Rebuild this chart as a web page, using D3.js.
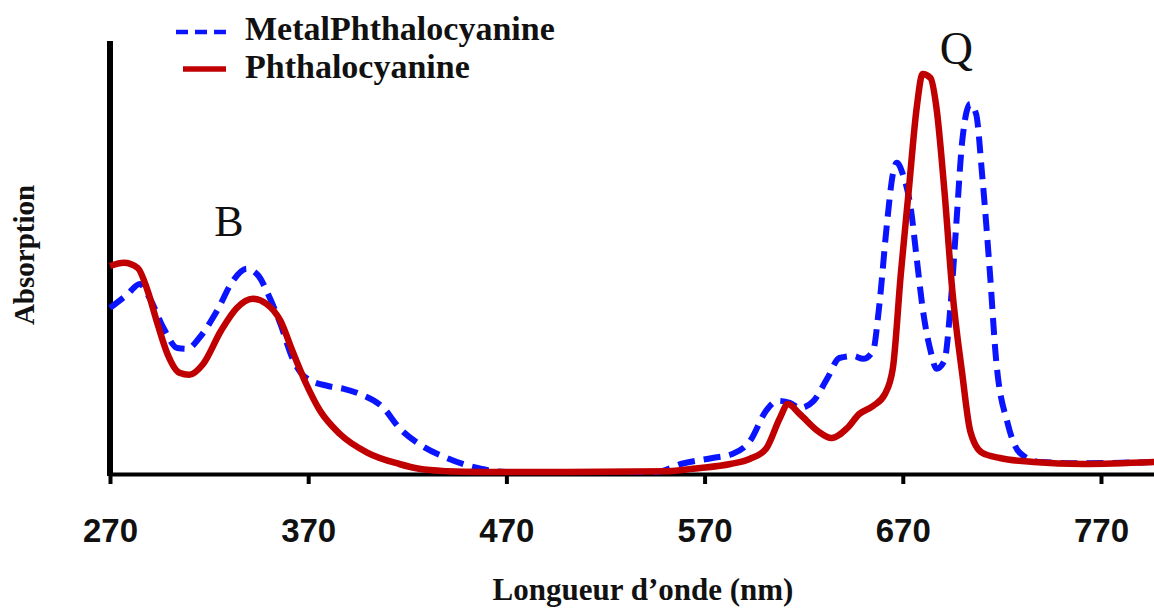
<!DOCTYPE html>
<html>
<head>
<meta charset="utf-8">
<script src="https://cdn.jsdelivr.net/npm/d3@7"></script>
<style>
  html, body { margin: 0; padding: 0; background: #fff; }
  svg { display: block; }
</style>
</head>
<body>
<script>
// UV-Vis absorption spectra (arbitrary units, normalised to the Q band of Pc)
const xTicks = [270, 370, 470, 570, 670, 770];

const pcWavelength = [270, 277, 284, 289, 294, 299, 305, 310, 317, 326, 334, 342, 349, 356, 362, 369, 376, 386, 400, 416, 426, 440, 457, 500, 552, 564, 568, 583, 593, 601, 608, 612, 618, 627, 634, 642, 648, 655, 661, 665, 669, 673, 677, 680, 684, 687, 691, 695, 700, 704, 710, 719, 736, 761, 797];
const pcAbsorption = [0.515, 0.523, 0.51, 0.453, 0.37, 0.295, 0.248, 0.243, 0.27, 0.353, 0.41, 0.433, 0.42, 0.378, 0.303, 0.22, 0.153, 0.095, 0.048, 0.02, 0.008, 0.002, 0, 0, 0.002, 0.008, 0.01, 0.02, 0.033, 0.058, 0.135, 0.17, 0.145, 0.103, 0.085, 0.11, 0.145, 0.165, 0.195, 0.26, 0.495, 0.703, 0.91, 0.995, 0.985, 0.91, 0.703, 0.453, 0.245, 0.103, 0.048, 0.035, 0.025, 0.02, 0.025];

const mpcWavelength = [270, 279, 285, 290, 297, 304, 309, 315, 324, 332, 339, 345, 349, 356, 362, 369, 380, 388, 396, 408, 416, 426, 440, 457, 470, 546, 558, 574, 584, 593, 601, 607, 613, 618, 625, 632, 638, 645, 650, 655, 658, 662, 665, 667, 670, 674, 677, 680, 684, 687, 691, 694, 697, 700, 704, 707, 710, 714, 717, 723, 729, 739, 761, 797];
const mpcAbsorption = [0.41, 0.445, 0.47, 0.435, 0.36, 0.31, 0.308, 0.335, 0.403, 0.478, 0.508, 0.49, 0.453, 0.37, 0.285, 0.235, 0.215, 0.208, 0.195, 0.16, 0.11, 0.07, 0.035, 0.008, 0, 0, 0.02, 0.035, 0.045, 0.078, 0.153, 0.178, 0.173, 0.16, 0.178, 0.235, 0.285, 0.29, 0.283, 0.303, 0.41, 0.62, 0.745, 0.773, 0.745, 0.66, 0.535, 0.41, 0.303, 0.258, 0.278, 0.41, 0.62, 0.828, 0.92, 0.895, 0.745, 0.495, 0.285, 0.12, 0.048, 0.025, 0.022, 0.025];

const seriesNames = ["MetalPhthalocyanine", "Phthalocyanine"];
const bandLabels = [{ name: "B", nm: 330, value: 0.59, size: 44 }, { name: "Q", nm: 697, value: 1.02, size: 46 }];

const W = 1154, H = 608;
const svg = d3.select("body").append("svg").attr("width", W).attr("height", H);

const x = d3.scaleLinear().domain([270, 797]).range([110, 1154.5]);
const y = d3.scaleLinear().domain([0, 1]).range([472, 72]);

const serif = "'Liberation Serif', 'Times New Roman', serif";
const sans = "'Liberation Sans', Arial, sans-serif";

// x axis
const xAxis = svg.append("g")
  .attr("transform", "translate(0,474)")
  .call(d3.axisBottom(x).tickValues(xTicks).tickSize(10).tickSizeOuter(0).tickFormat(d3.format("d")));
xAxis.select(".domain").attr("stroke", "#000").attr("stroke-width", 4);
xAxis.selectAll(".tick line").attr("stroke", "#000").attr("stroke-width", 4);
xAxis.selectAll(".tick text")
  .attr("y", 68).attr("dy", 0)
  .attr("fill", "#111")
  .style("font-family", sans).style("font-size", "33px").style("font-weight", "bold");

// y axis (no ticks)
svg.append("line")
  .attr("x1", x(270)).attr("x2", x(270))
  .attr("y1", 41).attr("y2", 476)
  .attr("stroke", "#000").attr("stroke-width", 6);

// spectra
const line = d3.line().x(d => x(d[0])).y(d => y(d[1])).curve(d3.curveMonotoneX);
const mpc = d3.zip(mpcWavelength, mpcAbsorption);
const pc = d3.zip(pcWavelength, pcAbsorption);

svg.append("path").datum(mpc)
  .attr("d", line)
  .attr("fill", "none")
  .attr("stroke", "#0a14ff")
  .attr("stroke-width", 6)
  .attr("stroke-dasharray", "17,9");

svg.append("path").datum(pc)
  .attr("d", line)
  .attr("fill", "none")
  .attr("stroke", "#c00000")
  .attr("stroke-width", 6.5)
  .attr("stroke-linejoin", "round");

// band labels
svg.selectAll("text.band").data(bandLabels).enter().append("text")
  .attr("class", "band")
  .attr("x", d => x(d.nm)).attr("y", d => y(d.value))
  .attr("text-anchor", "middle")
  .attr("fill", "#111")
  .style("font-family", serif).style("font-size", d => d.size + "px")
  .text(d => d.name);

// legend
const legend = svg.append("g");
legend.append("line")
  .attr("x1", 176).attr("x2", 226).attr("y1", 32).attr("y2", 32)
  .attr("stroke", "#0a14ff").attr("stroke-width", 4.5).attr("stroke-dasharray", "12,7");
legend.append("line")
  .attr("x1", 183).attr("x2", 226).attr("y1", 69).attr("y2", 69)
  .attr("stroke", "#c00000").attr("stroke-width", 5.5);
legend.selectAll("text").data(seriesNames).enter().append("text")
  .attr("x", 245).attr("y", (d, i) => 40 + i * 38)
  .attr("fill", "#111")
  .style("font-family", serif).style("font-size", "34px").style("font-weight", "bold")
  .text(d => d);

// axis titles
svg.append("text")
  .attr("x", 643).attr("y", 600)
  .attr("text-anchor", "middle")
  .attr("fill", "#111")
  .style("font-family", serif).style("font-size", "31px").style("font-weight", "bold")
  .text("Longueur d’onde (nm)");

svg.append("text")
  .attr("transform", "translate(34,255) rotate(-90)")
  .attr("text-anchor", "middle")
  .attr("fill", "#111")
  .style("font-family", serif).style("font-size", "29px").style("font-weight", "bold")
  .text("Absorption");
</script>
</body>
</html>
